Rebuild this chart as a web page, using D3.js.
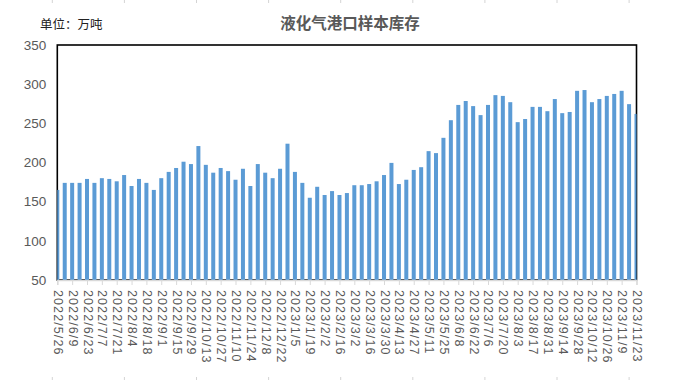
<!DOCTYPE html>
<html>
<head>
<meta charset="utf-8">
<script src="https://cdn.jsdelivr.net/npm/d3@7"></script>
<style>
  html, body { margin: 0; padding: 0; background: #fff; }
  svg { display: block; }
</style>
</head>
<body>
<div id="chart"></div>
<script>
const title = "液化气港口样本库存";
const unitLabel = "单位：万吨";

// weekly dates 2022/5/26 .. 2023/11/23
const categories = [
  "2022/5/26","2022/6/2","2022/6/9","2022/6/16","2022/6/23","2022/6/30","2022/7/7","2022/7/14",
  "2022/7/21","2022/7/28","2022/8/4","2022/8/11","2022/8/18","2022/8/25","2022/9/1","2022/9/8",
  "2022/9/15","2022/9/22","2022/9/29","2022/10/6","2022/10/13","2022/10/20","2022/10/27","2022/11/3",
  "2022/11/10","2022/11/17","2022/11/24","2022/12/1","2022/12/8","2022/12/15","2022/12/22","2022/12/29",
  "2023/1/5","2023/1/12","2023/1/19","2023/1/26","2023/2/2","2023/2/9","2023/2/16","2023/2/23",
  "2023/3/2","2023/3/9","2023/3/16","2023/3/23","2023/3/30","2023/4/6","2023/4/13","2023/4/20",
  "2023/4/27","2023/5/4","2023/5/11","2023/5/18","2023/5/25","2023/6/1","2023/6/8","2023/6/15",
  "2023/6/22","2023/6/29","2023/7/6","2023/7/13","2023/7/20","2023/7/27","2023/8/3","2023/8/10",
  "2023/8/17","2023/8/24","2023/8/31","2023/9/7","2023/9/14","2023/9/21","2023/9/28","2023/10/5",
  "2023/10/12","2023/10/19","2023/10/26","2023/11/2","2023/11/9","2023/11/16","2023/11/23"
];

const inventory = [
  165, 174, 174, 174, 179, 174, 180, 179, 176, 184,
  170, 179, 174, 165, 180, 188, 193, 201, 198, 221,
  197, 187, 193, 189, 178, 192, 170, 198, 187, 180,
  192, 224, 188, 174, 155, 169, 158.5, 163.5, 158.5, 161,
  171, 171, 172.5, 176, 184, 199.5, 172.5, 178, 190.5, 194,
  214.5, 212, 231.5, 254, 273.5, 278.5, 272, 260.5, 273.5, 286,
  285, 277, 251.5, 255.5, 271, 271, 265.5, 281, 263, 264.5,
  291.5, 292.5, 277, 281, 285, 287.5, 291.5, 274.5, 262
];

const yTicks = [50, 100, 150, 200, 250, 300, 350];

const W = 681, H = 380;
const plot = { left: 57.3, right: 636.5, top: 45, bottom: 280 };

const svg = d3.select("#chart").append("svg")
  .attr("width", W).attr("height", H);

// faint sheet-cell marks at the edges
const cellMarks = d3.range(9).map(k => 52.3 + 72.1 * k);
svg.selectAll("line.cellTop").data(cellMarks).join("line")
  .attr("x1", d => d).attr("x2", d => d).attr("y1", 0).attr("y2", 3)
  .attr("stroke", "#d4d4d4").attr("stroke-width", 1);
svg.selectAll("line.cellBot").data(cellMarks).join("line")
  .attr("x1", d => d).attr("x2", d => d).attr("y1", 377).attr("y2", 380)
  .attr("stroke", "#d4d4d4").attr("stroke-width", 1);

const x = d3.scalePoint().domain(categories).range([plot.left, plot.right]);
const y = d3.scaleLinear().domain([50, 350]).range([plot.bottom, plot.top]);

// title & unit
svg.append("text")
  .attr("x", 350).attr("y", 29)
  .attr("text-anchor", "middle")
  .attr("font-family", "'Noto Sans CJK SC', sans-serif")
  .attr("font-size", 15.5).attr("font-weight", "bold")
  .attr("fill", "#595959")
  .text(title);

svg.append("text")
  .attr("x", 40).attr("y", 29)
  .attr("font-family", "'Noto Sans CJK SC', sans-serif")
  .attr("font-size", 12.5)
  .attr("fill", "#222")
  .text(unitLabel);

// plot border (drawn under bars)
svg.append("rect")
  .attr("x", plot.left).attr("y", plot.top)
  .attr("width", plot.right - plot.left).attr("height", plot.bottom - plot.top)
  .attr("fill", "none").attr("stroke", "#000").attr("stroke-width", 1.6);

// clip for bars
svg.append("clipPath").attr("id", "plotclip")
  .append("rect")
  .attr("x", plot.left).attr("y", plot.top - 2)
  .attr("width", plot.right - plot.left).attr("height", plot.bottom - plot.top + 2);

const barW = 4;
svg.append("g").attr("clip-path", "url(#plotclip)")
  .selectAll("rect").data(categories).join("rect")
  .attr("x", (d) => x(d) - barW / 2)
  .attr("y", (d, i) => y(inventory[i]))
  .attr("width", barW)
  .attr("height", (d, i) => y(50) - y(inventory[i]))
  .attr("fill", "#5b9bd5");

// y axis labels
const yAxis = d3.axisLeft(y).tickValues(yTicks).tickSize(0).tickPadding(0);
const gy = svg.append("g").attr("transform", `translate(${plot.left - 11},0)`).call(yAxis);
gy.select(".domain").remove();
gy.selectAll("text")
  .attr("font-family", "'Liberation Sans', Arial, sans-serif")
  .attr("font-size", 13.5)
  .attr("fill", "#595959");

// x axis
const labelled = categories.filter((d, i) => i % 2 === 0);
const xAxis = d3.axisBottom(x).tickValues(labelled).tickSize(5).tickPadding(0);
const gx = svg.append("g").attr("transform", `translate(0,${plot.bottom})`).call(xAxis);
gx.select(".domain").attr("stroke", "#d9d9d9").attr("stroke-width", 1.3);
gx.selectAll(".tick line").attr("stroke", "#d9d9d9");
gx.selectAll("text")
  .attr("font-family", "'Liberation Sans', Arial, sans-serif")
  .attr("font-size", 12.5)
  .attr("letter-spacing", "1.1px")
  .attr("fill", "#595959")
  .attr("text-anchor", "start")
  .attr("dy", null)
  .attr("y", 0)
  .attr("dominant-baseline", "central")
  .attr("transform", "translate(0,10) rotate(90)");
</script>
</body>
</html>
